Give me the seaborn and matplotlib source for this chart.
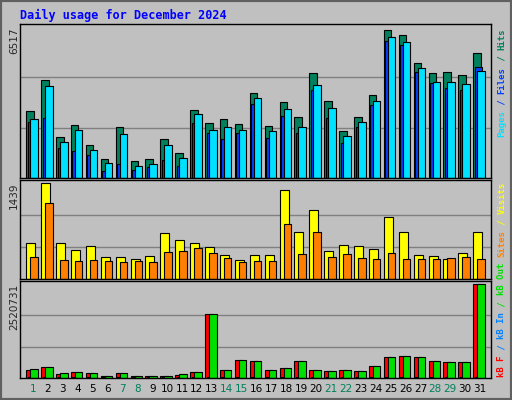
import numpy as np
import seaborn as sns
import matplotlib.pyplot as plt
from matplotlib.patches import Rectangle

sns.set_style("white")
plt.rcParams['font.family'] = ['DejaVu Sans']

days = list(range(1, 32))
weekend_days = [1, 7, 8, 14, 15, 21, 22, 28, 29]

hits = [2911, 4214, 1781, 2303, 1434, 825, 2216, 739, 825, 1665, 1086, 2954, 2390, 2563, 2346, 3664,
        2259, 3273, 2650, 4518, 3345, 2042, 2650, 3563, 6387, 6170, 4953, 4518, 4562, 4432, 5388]
pages = [2563, 3954, 1564, 2057, 1216, 652, 1912, 521, 608, 1434, 869, 2781, 2086, 2216, 2086, 3432,
         2042, 2998, 2216, 3997, 3041, 1825, 2433, 3345, 6083, 5865, 4736, 4127, 4127, 4041, 4605]
files = [2433, 2607, 1303, 1173, 999, 304, 608, 348, 478, 782, 521, 2390, 1955, 1694, 1955, 3215,
         1738, 2694, 1955, 3780, 2607, 1521, 2216, 3171, 5909, 5735, 4562, 4084, 3867, 3780, 4779]
visits = [532, 1439, 532, 438, 501, 328, 328, 297, 344, 688, 579, 532, 485, 360, 282, 360,
          360, 1330, 704, 1032, 422, 516, 501, 454, 923, 704, 360, 344, 297, 391, 704]
sites = [328, 1142, 282, 266, 282, 266, 250, 266, 250, 407, 422, 469, 391, 313, 250, 266,
         266, 829, 375, 704, 328, 375, 313, 297, 391, 297, 297, 297, 313, 328, 297]
kb_out = [249, 305, 138, 166, 138, 55, 138, 55, 55, 55, 111, 166, 1717, 222, 471, 443,
          222, 277, 443, 222, 194, 222, 194, 332, 554, 582, 554, 443, 416, 416, 2521]
kb_f = [222, 305, 111, 166, 138, 55, 138, 55, 55, 55, 83, 166, 1717, 222, 471, 443,
        222, 277, 443, 222, 194, 222, 194, 332, 554, 582, 554, 443, 416, 416, 2521]
kb_in = [20] * 31

W, H = 512, 400
BG = '#C0C0C0'
fig = plt.figure(figsize=(W / 100, H / 100), dpi=100, facecolor=BG)
fig.patches.append(Rectangle((0, 0), 1, 1, transform=fig.transFigure, fill=False,
                             edgecolor='#606060', linewidth=3))


def panel(top, bottom):
    ax = fig.add_axes([20 / W, 1 - bottom / H, (491 - 20) / W, (bottom - top) / H])
    ax.set_facecolor(BG)
    ax.set_xlim(0.13, 31.74)
    ax.set_xticks([])
    ax.set_yticks([])
    for s in ax.spines.values():
        s.set_color('black')
        s.set_linewidth(1)
    return ax


x = np.array(days)
bw = 0.5
kw = dict(edgecolor='black', linewidth=0.8, align='edge')

ax1 = panel(24, 178)
ymax = 6517
ax1.set_ylim(0, ymax * 1.02)
for g in (ymax / 3, 2 * ymax / 3):
    ax1.axhline(g, color='#808080', lw=1, zorder=0)
ax1.bar(x - 0.45, hits, bw, color='#00805C', **kw)
ax1.bar(x - 0.35, files, bw, color='#0040FF', **kw)
ax1.bar(x - 0.18, pages, bw, color='#00E0FF', **kw)

ax2 = panel(180, 279)
vmax = 1439
ax2.set_ylim(0, vmax * 1.03)
for g in (vmax / 3, 2 * vmax / 3):
    ax2.axhline(g, color='#808080', lw=1, zorder=0)
ax2.bar(x - 0.45, visits, 0.6, color='#FFFF00', **kw)
ax2.bar(x - 0.18, sites, bw, color='#FF8000', **kw)

ax3 = panel(281, 378)
kmax = 2521
ax3.set_ylim(0, kmax * 1.03)
for g in (kmax / 3, 2 * kmax / 3):
    ax3.axhline(g, color='#808080', lw=1, zorder=0)
ax3.bar(x - 0.45, kb_f, bw, color='#FF0000', **kw)
ax3.bar(x - 0.35, kb_in, 0.2, color='#0080FF', **kw)
ax3.bar(x - 0.18, kb_out, bw, color='#00E000', **kw)

# day labels
for d in days:
    fig.text((33 + (d - 1) * 14.9) / W, 1 - 389 / H, str(d), ha='center', va='center', fontsize=7.5,
             color='#00805C' if d in weekend_days else 'black')

# left max labels
for lab, py in (('6517', 28), ('1439', 182), ('2520731', 284)):
    fig.text(14 / W, 1 - py / H, lab, rotation=90, ha='center', va='top', fontsize=7.5)

fig.text(20 / W, 1 - 15 / H, 'Daily usage for December 2024', fontsize=8.5, fontweight='bold',
         family='DejaVu Sans Mono', color='#0000FF', va='center', ha='left')


# right side legends, built bottom-up as one monospace string per colour
def side_label(parts, py_bottom, size=6.5):
    step = 0.602 * size * 100 / 72
    py = py_bottom
    for txt, col in parts:
        fig.text(502 / W, 1 - py / H, txt, rotation=90, ha='center', va='bottom', fontsize=size,
                 family='DejaVu Sans Mono', fontweight='bold', color=col)
        py -= len(txt) * step


side_label([('Pages', '#00E0FF'), (' / ', '#0040FF'), ('Files', '#0040FF'), (' / ', '#00805C'),
            ('Hits', '#00805C')], 137)
side_label([('Sites', '#FF8000'), (' / ', '#FFFF00'), ('Visits', '#FFFF00')], 257)
side_label([('kB F', '#FF0000'), (' / ', '#0080FF'), ('kB In', '#0080FF'), (' / ', '#00E000'),
            ('kB Out', '#00E000')], 377)

fig.savefig('out.png', dpi=100, facecolor=BG)
